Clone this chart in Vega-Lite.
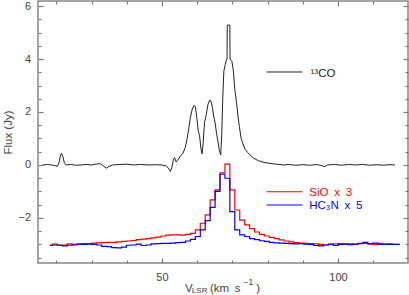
{
  "$schema": "https://vega.github.io/schema/vega-lite/v6.json",
  "width": 370,
  "height": 262,
  "autosize": {"type": "none"},
  "padding": {"left": 38, "top": 1, "right": 1, "bottom": 32},
  "data": {"values": [{}]},
  "config": {
    "font": "Liberation Sans",
    "view": {"stroke": "#888888", "strokeWidth": 1.5},
    "axis": {
      "domain": false, "grid": false, "ticks": true, "tickColor": "#777777", "tickWidth": 1.2,
      "labelColor": "#444444", "labelFont": "Liberation Sans", "labelFontSize": 11,
      "titleFont": "Liberation Sans", "titleFontSize": 11.5, "titleFontWeight": "normal", "titleColor": "#444444"
    }
  },
  "datasets": {
    "co": [
      {"v":16.2,"f":0.0},{"v":17.5,"f":0.02},{"v":18.5,"f":0.0},{"v":19.5,"f":-0.02},{"v":20.3,"f":-0.05},{"v":20.8,"f":0.1},{"v":21.2,"f":0.38},{"v":21.5,"f":0.44},{"v":21.9,"f":0.3},{"v":22.3,"f":0.08},{"v":22.8,"f":0.0},{"v":24,"f":0.02},{"v":25.5,"f":-0.01},{"v":27,"f":0.0},{"v":28.5,"f":0.02},{"v":30,"f":0.0},{"v":31.5,"f":0.04},{"v":32.5,"f":0.05},{"v":33.5,"f":-0.05},{"v":34.2,"f":-0.12},{"v":35,"f":-0.05},{"v":36,"f":0.0},{"v":38,"f":0.02},{"v":40,"f":0.03},{"v":42,"f":0.0},{"v":44,"f":0.02},{"v":46,"f":0.0},{"v":48,"f":0.01},{"v":50,"f":0.0},{"v":51.3,"f":-0.04},{"v":52,"f":-0.15},{"v":52.4,"f":-0.24},{"v":52.8,"f":-0.1},{"v":53.3,"f":0.22},{"v":53.6,"f":0.28},{"v":54.0,"f":0.12},{"v":54.5,"f":0.18},{"v":55.3,"f":0.35},{"v":56,"f":0.45},{"v":56.6,"f":0.65},{"v":57.1,"f":0.95},{"v":57.6,"f":1.35},{"v":58.1,"f":1.8},{"v":58.6,"f":2.1},{"v":59.1,"f":2.25},{"v":59.5,"f":2.2},{"v":59.9,"f":1.8},{"v":60.3,"f":1.3},{"v":60.7,"f":1.1},{"v":61.1,"f":0.6},{"v":61.4,"f":0.42},{"v":61.7,"f":0.8},{"v":62.1,"f":1.6},{"v":62.6,"f":1.9},{"v":63.1,"f":2.3},{"v":63.6,"f":2.45},{"v":63.9,"f":2.42},{"v":64.3,"f":2.2},{"v":64.7,"f":1.85},{"v":65.1,"f":1.6},{"v":65.5,"f":1.2},{"v":65.9,"f":0.9},{"v":66.3,"f":0.55},{"v":66.7,"f":0.38},{"v":67.0,"f":1.2},{"v":67.3,"f":2.6},{"v":67.6,"f":3.55},{"v":68.0,"f":3.8},{"v":68.3,"f":3.96},{"v":68.5,"f":4.0},{"v":68.55,"f":5.28},{"v":69.3,"f":5.28},{"v":69.35,"f":4.0},{"v":69.9,"f":3.9},{"v":70.3,"f":3.55},{"v":70.7,"f":2.85},{"v":71.2,"f":2.35},{"v":71.6,"f":1.85},{"v":72.0,"f":1.45},{"v":72.5,"f":1.0},{"v":73.0,"f":0.8},{"v":73.6,"f":0.6},{"v":74.3,"f":0.48},{"v":75,"f":0.38},{"v":76,"f":0.26},{"v":77.4,"f":0.16},{"v":79,"f":0.1},{"v":80.7,"f":0.06},{"v":82.5,"f":0.03},{"v":84.5,"f":0.0},{"v":86,"f":0.02},{"v":88,"f":-0.01},{"v":90,"f":0.01},{"v":92,"f":-0.01},{"v":94,"f":0.02},{"v":96.3,"f":-0.06},{"v":97,"f":0.0},{"v":99,"f":0.02},{"v":101,"f":-0.01},{"v":103,"f":0.02},{"v":105,"f":0.0},{"v":107,"f":0.02},{"v":109,"f":-0.01},{"v":111,"f":0.01},{"v":113,"f":-0.01},{"v":114.5,"f":0.01},{"v":116.2,"f":0.0}
    ],
    "sio": [
      {"v":18.2,"f":-3.02},{"v":19.6,"f":-2.99},{"v":21.0,"f":-3.02},{"v":22.4,"f":-3.02},{"v":23.8,"f":-2.98},{"v":25.2,"f":-3.0},{"v":26.6,"f":-2.98},{"v":28.0,"f":-2.97},{"v":29.4,"f":-2.97},{"v":30.8,"f":-2.95},{"v":32.2,"f":-2.94},{"v":33.6,"f":-2.93},{"v":35.0,"f":-2.92},{"v":36.4,"f":-2.92},{"v":37.8,"f":-2.9},{"v":39.2,"f":-2.88},{"v":40.6,"f":-2.87},{"v":42.0,"f":-2.85},{"v":43.4,"f":-2.82},{"v":44.8,"f":-2.8},{"v":46.2,"f":-2.78},{"v":47.6,"f":-2.75},{"v":49.0,"f":-2.72},{"v":50.4,"f":-2.68},{"v":51.8,"f":-2.65},{"v":53.2,"f":-2.64},{"v":54.6,"f":-2.64},{"v":56.0,"f":-2.65},{"v":57.4,"f":-2.62},{"v":58.8,"f":-2.58},{"v":60.2,"f":-2.45},{"v":61.6,"f":-2.2},{"v":63.0,"f":-1.88},{"v":64.4,"f":-1.32},{"v":65.8,"f":-0.94},{"v":67.2,"f":-0.3},{"v":68.6,"f":0.03},{"v":70.0,"f":-0.94},{"v":71.4,"f":-1.7},{"v":72.8,"f":-2.08},{"v":74.2,"f":-2.26},{"v":75.6,"f":-2.4},{"v":77.0,"f":-2.53},{"v":78.4,"f":-2.62},{"v":79.8,"f":-2.68},{"v":81.2,"f":-2.73},{"v":82.6,"f":-2.78},{"v":84.0,"f":-2.83},{"v":85.4,"f":-2.87},{"v":86.8,"f":-2.9},{"v":88.2,"f":-2.93},{"v":89.6,"f":-2.95},{"v":91.0,"f":-2.96},{"v":92.4,"f":-2.97},{"v":93.8,"f":-2.98},{"v":95.2,"f":-3.0},{"v":96.6,"f":-3.02},{"v":98.0,"f":-2.99},{"v":99.4,"f":-2.98},{"v":100.8,"f":-2.97},{"v":102.2,"f":-3.0},{"v":103.6,"f":-2.98},{"v":105.0,"f":-3.0},{"v":106.4,"f":-2.97},{"v":107.8,"f":-2.96},{"v":109.2,"f":-2.99},{"v":110.6,"f":-3.0},{"v":112.0,"f":-2.96},{"v":113.4,"f":-3.0},{"v":114.8,"f":-2.98},{"v":116.2,"f":-3.0},{"v":117.6,"f":-3.0}
    ],
    "hc3n": [
      {"v":18.2,"f":-3.04},{"v":19.6,"f":-3.02},{"v":21.0,"f":-3.03},{"v":22.4,"f":-3.05},{"v":23.8,"f":-3.03},{"v":25.2,"f":-3.02},{"v":26.6,"f":-3.0},{"v":28.0,"f":-3.0},{"v":29.4,"f":-2.99},{"v":30.8,"f":-3.0},{"v":32.2,"f":-3.02},{"v":33.6,"f":-3.07},{"v":35.0,"f":-3.08},{"v":36.4,"f":-3.12},{"v":37.8,"f":-3.13},{"v":39.2,"f":-3.1},{"v":40.6,"f":-3.03},{"v":42.0,"f":-3.02},{"v":43.4,"f":-2.99},{"v":44.8,"f":-3.04},{"v":46.2,"f":-3.02},{"v":47.6,"f":-2.98},{"v":49.0,"f":-2.97},{"v":50.4,"f":-2.96},{"v":51.8,"f":-2.96},{"v":53.2,"f":-2.95},{"v":54.6,"f":-2.93},{"v":56.0,"f":-2.92},{"v":57.4,"f":-2.87},{"v":58.8,"f":-2.81},{"v":60.2,"f":-2.7},{"v":61.6,"f":-2.45},{"v":63.0,"f":-2.1},{"v":64.4,"f":-1.6},{"v":65.8,"f":-1.0},{"v":67.2,"f":-0.35},{"v":68.6,"f":-0.5},{"v":70.0,"f":-1.76},{"v":71.4,"f":-2.45},{"v":72.8,"f":-2.64},{"v":74.2,"f":-2.7},{"v":75.6,"f":-2.78},{"v":77.0,"f":-2.82},{"v":78.4,"f":-2.86},{"v":79.8,"f":-2.88},{"v":81.2,"f":-2.92},{"v":82.6,"f":-2.94},{"v":84.0,"f":-2.95},{"v":85.4,"f":-2.96},{"v":86.8,"f":-2.97},{"v":88.2,"f":-2.98},{"v":89.6,"f":-2.97},{"v":91.0,"f":-2.99},{"v":92.4,"f":-3.0},{"v":93.8,"f":-3.04},{"v":95.2,"f":-3.05},{"v":96.6,"f":-3.02},{"v":98.0,"f":-3.0},{"v":99.4,"f":-3.04},{"v":100.8,"f":-3.0},{"v":102.2,"f":-2.98},{"v":103.6,"f":-3.01},{"v":105.0,"f":-2.99},{"v":106.4,"f":-2.96},{"v":107.8,"f":-2.92},{"v":109.2,"f":-2.97},{"v":110.6,"f":-2.95},{"v":112.0,"f":-3.0},{"v":113.4,"f":-2.99},{"v":114.8,"f":-3.0},{"v":116.2,"f":-3.0},{"v":117.6,"f":-3.0}
    ]
  },
  "layer": [
    {
      "data": {"name": "co"},
      "mark": {"type": "line", "color": "#222222", "strokeWidth": 1},
      "encoding": {
        "x": {"field": "v", "type": "quantitative", "scale": {"domain": [14.8, 119.9], "nice": false, "zero": false},
              "axis": {"orient": "bottom", "values": [50, 100], "offset": -5, "tickSize": 5, "labelPadding": 8, "title": null}},
        "y": {"field": "f", "type": "quantitative", "scale": {"domain": [-3.7, 6.19], "nice": false, "zero": false},
              "axis": {"orient": "left", "values": [-2, 0, 2, 4, 6], "offset": -5, "tickSize": 5, "labelPadding": 7.5, "title": "Flux (Jy)", "titlePadding": 4}}
      }
    },
    {
      "data": {"name": "sio"},
      "mark": {"type": "line", "color": "#ff0000", "strokeWidth": 1.2, "interpolate": "step"},
      "encoding": {
        "x": {"field": "v", "type": "quantitative", "scale": {"domain": [14.8, 119.9], "nice": false, "zero": false},
              "axis": {"orient": "bottom", "values": [20, 30, 40, 60, 70, 80, 90, 110], "offset": -3, "tickSize": 3, "labels": false, "title": null}},
        "y": {"field": "f", "type": "quantitative", "scale": {"domain": [-3.7, 6.19], "nice": false, "zero": false},
              "axis": {"orient": "left", "values": [-3.5, -3, -2.5, -1.5, -1, -0.5, 0.5, 1, 1.5, 2.5, 3, 3.5, 4.5, 5, 5.5], "offset": -3, "tickSize": 3, "labels": false, "title": null}}
      }
    },
    {
      "data": {"name": "hc3n"},
      "mark": {"type": "line", "color": "#0000ff", "strokeWidth": 1.2, "interpolate": "step"},
      "encoding": {
        "x": {"field": "v", "type": "quantitative", "scale": {"domain": [14.8, 119.9], "nice": false, "zero": false},
              "axis": {"orient": "top", "values": [50, 100], "offset": -5, "tickSize": 5, "labels": false, "title": null}},
        "y": {"field": "f", "type": "quantitative", "scale": {"domain": [-3.7, 6.19], "nice": false, "zero": false},
              "axis": {"orient": "right", "values": [-2, 0, 2, 4, 6], "offset": -5, "tickSize": 5, "labels": false, "title": null}}
      }
    },
    {
      "mark": {"type": "rule", "color": "#222222", "strokeWidth": 1},
      "encoding": {
        "x": {"datum": 79.7, "type": "quantitative", "scale": {"domain": [14.8, 119.9], "nice": false, "zero": false},
              "axis": {"orient": "top", "values": [20, 30, 40, 60, 70, 80, 90, 110], "offset": -3, "tickSize": 3, "labels": false, "title": null}},
        "x2": {"datum": 89.9},
        "y": {"datum": 3.51, "type": "quantitative", "scale": {"domain": [-3.7, 6.19], "nice": false, "zero": false},
              "axis": {"orient": "right", "values": [-3.5, -3, -2.5, -1.5, -1, -0.5, 0.5, 1, 1.5, 2.5, 3, 3.5, 4.5, 5, 5.5], "offset": -3, "tickSize": 3, "labels": false, "title": null}}
      }
    },
    {
      "mark": {"type": "rule", "color": "#ff0000", "strokeWidth": 1.2},
      "encoding": {
        "x": {"datum": 79.7, "type": "quantitative", "axis": null},
        "x2": {"datum": 89.9},
        "y": {"datum": -1.01, "type": "quantitative", "axis": null}
      }
    },
    {
      "mark": {"type": "rule", "color": "#0000ff", "strokeWidth": 1.2},
      "encoding": {
        "x": {"datum": 79.7, "type": "quantitative", "axis": null},
        "x2": {"datum": 89.9},
        "y": {"datum": -1.51, "type": "quantitative", "axis": null}
      }
    },
    {
      "mark": {"type": "text", "align": "left", "baseline": "alphabetic", "fontSize": 11.5, "color": "#222222"},
      "encoding": {
        "x": {"datum": 92.2, "type": "quantitative", "axis": null},
        "y": {"datum": 3.32, "type": "quantitative", "axis": null},
        "text": {"value": "¹³CO"}
      }
    },
    {
      "mark": {"type": "text", "align": "left", "baseline": "alphabetic", "fontSize": 11.5, "color": "#ff0000"},
      "encoding": {
        "x": {"datum": 91.85, "type": "quantitative", "axis": null},
        "y": {"datum": -1.17, "type": "quantitative", "axis": null},
        "text": {"value": "SiO\u2002x\u20023"}
      }
    },
    {
      "mark": {"type": "text", "align": "left", "baseline": "alphabetic", "fontSize": 11.5, "color": "#0000ff"},
      "encoding": {
        "x": {"datum": 91.85, "type": "quantitative", "axis": null},
        "y": {"datum": -1.66, "type": "quantitative", "axis": null},
        "text": {"value": "HC₃N\u2002x\u20025"}
      }
    },
    {
      "mark": {"type": "text", "align": "left", "baseline": "alphabetic", "fontSize": 11.5, "color": "#444444"},
      "encoding": {
        "x": {"datum": 56.53, "type": "quantitative", "axis": null},
        "y": {"datum": -4.79, "type": "quantitative", "axis": null},
        "text": {"value": "V"}
      }
    },
    {
      "mark": {"type": "text", "align": "left", "baseline": "alphabetic", "fontSize": 8, "color": "#444444"},
      "encoding": {
        "x": {"datum": 58.5, "type": "quantitative", "axis": null},
        "y": {"datum": -4.85, "type": "quantitative", "axis": null},
        "text": {"value": "LSR"}
      }
    },
    {
      "mark": {"type": "text", "align": "left", "baseline": "alphabetic", "fontSize": 11.5, "color": "#444444"},
      "encoding": {
        "x": {"datum": 63.64, "type": "quantitative", "axis": null},
        "y": {"datum": -4.79, "type": "quantitative", "axis": null},
        "text": {"value": "(km\u2002s"}
      }
    },
    {
      "mark": {"type": "text", "align": "left", "baseline": "alphabetic", "fontSize": 8.5, "color": "#444444"},
      "encoding": {
        "x": {"datum": 73.2, "type": "quantitative", "axis": null},
        "y": {"datum": -4.53, "type": "quantitative", "axis": null},
        "text": {"value": "−1"}
      }
    },
    {
      "mark": {"type": "text", "align": "left", "baseline": "alphabetic", "fontSize": 11.5, "color": "#444444"},
      "encoding": {
        "x": {"datum": 76.8, "type": "quantitative", "axis": null},
        "y": {"datum": -4.79, "type": "quantitative", "axis": null},
        "text": {"value": ")"}
      }
    }
  ],
  "resolve": {"axis": {"x": "independent", "y": "independent"}}
}
